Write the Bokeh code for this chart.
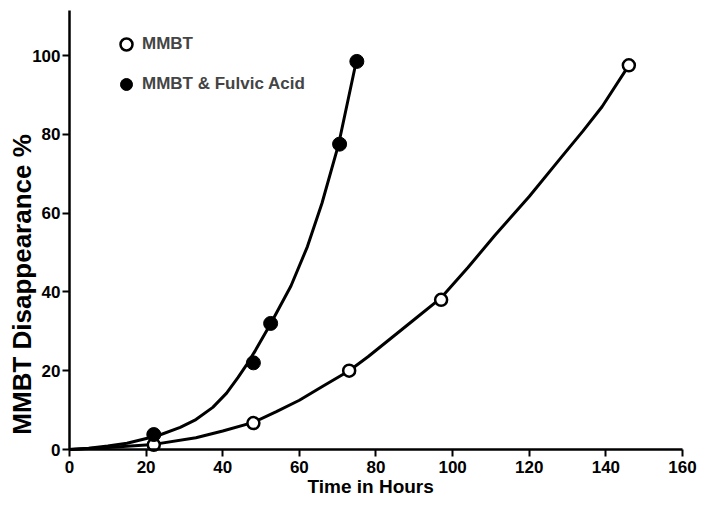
import math
from bokeh.plotting import figure
from bokeh.models import Label, Legend, LegendItem, Range1d, FixedTicker
from bokeh.embed import file_html
from bokeh.resources import INLINE

# Measured points
mmbt_t = [22, 48, 73, 97, 146]
mmbt_y = [1.2, 6.7, 20, 38, 97.5]
fulvic_t = [22, 48, 52.5, 70.5, 75]
fulvic_y = [3.8, 22, 32, 77.5, 98.5]

# Fitted curves
mmbt_curve_t = [0, 10, 22, 33, 40, 48, 54, 60, 66, 73, 78, 84, 90, 97, 104, 111,
                120, 128.4, 134, 139, 146]
mmbt_curve_y = [0, 0.5, 1.3, 3.0, 4.7, 6.9, 9.6, 12.5, 16.0, 20.0, 23.6, 28.3, 33.0,
                38.5, 46.2, 54.3, 64.2, 74.2, 80.8, 87.0, 97.5]
fulvic_curve_t = [0, 5, 10, 15, 23, 28.9, 33, 37.4, 41, 44, 46.3, 48.5, 52.5, 57.8,
                  62.1, 65.9, 70.2, 74.8]
fulvic_curve_y = [0, 0.35, 0.9, 1.6, 3.5, 5.6, 7.6, 10.7, 14.3, 18.3, 21.6, 25.1, 31.9,
                  41.5, 51.5, 62.5, 77.3, 98.3]

x_ticks = [0, 20, 40, 60, 80, 100, 120, 140, 160]
y_ticks = [0, 20, 40, 60, 80, 100]

FONT = "Liberation Sans"

p = figure(width=698, height=497, output_backend="svg", toolbar_location=None,
           x_range=Range1d(-18.01, 164.18), y_range=Range1d(-12.18, 113.96),
           min_border=0)
p.outline_line_color = None
p.xgrid.visible = False
p.ygrid.visible = False

for ax in (p.xaxis[0], p.yaxis[0]):
    ax.fixed_location = 0
    ax.axis_line_width = 2.5
    ax.axis_line_color = "black"
    ax.major_tick_line_width = 2
    ax.major_tick_line_color = "black"
    ax.major_tick_out = 7
    ax.major_tick_in = 0
    ax.minor_tick_line_color = None
    ax.major_label_text_font = FONT
    ax.major_label_text_font_style = "bold"
    ax.major_label_text_font_size = "17px"
    ax.major_label_text_color = "black"
p.xaxis[0].ticker = FixedTicker(ticks=x_ticks)
p.yaxis[0].ticker = FixedTicker(ticks=y_ticks)
p.xaxis[0].bounds = (0, 160)
p.yaxis[0].bounds = (0, 111.5)
p.xaxis[0].major_label_standoff = 4
p.yaxis[0].major_label_standoff = 2

p.line(mmbt_curve_t, mmbt_curve_y, line_color="black", line_width=3, line_join="round")
p.line(fulvic_curve_t, fulvic_curve_y, line_color="black", line_width=3, line_join="round")
r_open = p.scatter(mmbt_t, mmbt_y, marker="circle", size=12, fill_color="white",
                   line_color="black", line_width=2.5)
r_fill = p.scatter(fulvic_t, fulvic_y, marker="circle", size=14, fill_color="black",
                   line_color="black", line_width=1)

legend = Legend(items=[LegendItem(label="MMBT", renderers=[r_open]),
                       LegendItem(label="MMBT & Fulvic Acid", renderers=[r_fill])],
                location=(111, 398), glyph_width=30, glyph_height=30, label_height=30,
                spacing=10, padding=0, margin=0, label_standoff=1,
                label_text_font=FONT, label_text_font_style="bold",
                label_text_font_size="17px", label_text_baseline="middle",
                border_line_alpha=0, background_fill_alpha=0)
p.add_layout(legend, "center")

p.add_layout(Label(x=-12.27, y=41.9, text="MMBT Disappearance %", angle=math.pi / 2,
                   text_align="center", text_baseline="middle", text_font=FONT,
                   text_font_style="bold", text_font_size="26px", text_color="black"))
p.add_layout(Label(x=78.6, y=-9.3, text="Time in Hours", text_align="center",
                   text_baseline="middle", text_font=FONT, text_font_style="bold",
                   text_font_size="19px", text_color="black"))

open("out.html", "w").write(file_html(p, INLINE))
